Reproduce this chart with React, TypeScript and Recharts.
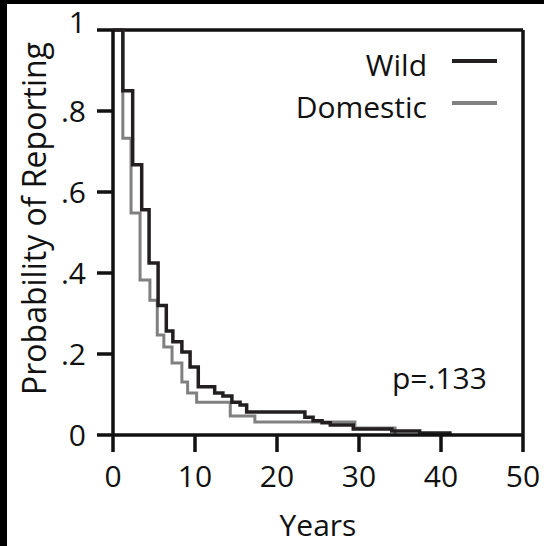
import { Legend, Line, LineChart, ReferenceLine, XAxis, YAxis } from "recharts";

// Kaplan-Meier style step curves
const wildYears = [0, 1.2, 2.4, 3.5, 4.4, 5.5, 6.5, 7.3, 8.4, 9.4, 10.4, 12.4, 13.4, 14.5, 15.5, 16.3, 23.4, 24.4, 25.5, 26.5, 29.3, 34.0, 37.4, 41.3];
const wildProb = [1, 0.85, 0.667, 0.556, 0.425, 0.32, 0.257, 0.23, 0.205, 0.168, 0.119, 0.104, 0.096, 0.081, 0.074, 0.057, 0.044, 0.035, 0.03, 0.025, 0.015, 0.01, 0.005, 0.005];

const domesticYears = [0, 1.2, 2.2, 3.3, 4.5, 5.4, 6.2, 7.2, 8.4, 9.1, 10.2, 14.3, 17.3, 29.5, 34.4];
const domesticProb = [1, 0.733, 0.548, 0.383, 0.333, 0.247, 0.217, 0.178, 0.131, 0.104, 0.081, 0.047, 0.032, 0.017, 0];

const xTicks = [0, 10, 20, 30, 40, 50];
const yTicks = [0, 0.2, 0.4, 0.6, 0.8, 1];
const yTickLabels = ["0", ".2", ".4", ".6", ".8", "1"];
const seriesNames = ["Wild", "Domestic"];
const seriesColors = ["#231f20", "#808080"];
const yTitle = "Probability of Reporting";
const pValue = "p=.133";

const wildData = wildYears.map((t, i) => ({ t, p: wildProb[i] }));
const domesticData = domesticYears.map((t, i) => ({ t, p: domesticProb[i] }));

const font = "'Open Sans', sans-serif";
const ink = "#111";
const tickStyle = { fill: ink, fontSize: 30, fontFamily: font };
const lineStyle = { stroke: ink, strokeWidth: 3.5 };

// y tick: the top label "1" sits a little higher than its tick in the original
function YTick(props: any) {
  const { x, y, payload } = props;
  const label = yTickLabels[yTicks.indexOf(payload.value)] ?? String(payload.value);
  const lift = payload.value === 1 ? -8 : 0;
  return (
    <text x={x} y={y + lift} dy="0.355em" textAnchor="end" {...tickStyle}>
      {label}
    </text>
  );
}

function YTitle(props: any) {
  const vb = props.viewBox;
  const cx = vb.x + 22;
  const cy = vb.y + vb.height / 2 - 14;
  return (
    <text
      x={cx}
      y={cy}
      dy="0.355em"
      textAnchor="middle"
      transform={`rotate(-90 ${cx} ${cy})`}
      fill={ink}
      fontSize={32}
      fontFamily={font}
    >
      {yTitle}
    </text>
  );
}

function LegendBox() {
  return (
    <div style={{ fontFamily: font, fontSize: 30, color: ink }}>
      {seriesNames.map((n, i) => (
        <div
          key={n}
          style={{ display: "flex", justifyContent: "flex-end", alignItems: "center", height: 42 }}
        >
          <span style={{ lineHeight: "42px" }}>{n}</span>
          <span
            style={{
              display: "inline-block",
              width: 45,
              height: 4,
              marginLeft: 25,
              marginTop: -8,
              background: seriesColors[i],
            }}
          />
        </div>
      ))}
    </div>
  );
}

export default function App() {
  return (
    <div
      style={{
        position: "relative",
        width: 544,
        height: 546,
        background: "#fff",
        overflow: "hidden",
      }}
    >
      <style>{`body{margin:0}`}</style>
      <div style={{ position: "absolute", left: 0, top: 0, width: 7, height: 546, background: "#000" }} />
      <div style={{ position: "absolute", left: 0, top: 0, width: 544, height: 4, background: "#000" }} />
      <LineChart
        width={544}
        height={546}
        margin={{ top: 30, right: 21, left: 13, bottom: 0 }}
        style={{ fontFamily: font }}
      >
        <XAxis
          type="number"
          dataKey="t"
          domain={[0, 50]}
          ticks={xTicks}
          height={111}
          axisLine={lineStyle}
          tickLine={lineStyle}
          tickSize={17}
          tickMargin={14}
          tick={tickStyle}
          allowDataOverflow
          label={{
            value: "Years",
            position: "insideBottom",
            offset: 10,
            style: { fill: ink, fontSize: 30, fontFamily: font },
          }}
        />
        <YAxis
          type="number"
          dataKey="p"
          domain={[0, 1]}
          ticks={yTicks}
          width={100}
          axisLine={lineStyle}
          tickLine={lineStyle}
          tickSize={16}
          tickMargin={11}
          tick={<YTick />}
          label={{ value: yTitle, position: "insideLeft", content: <YTitle /> }}
        />
        <ReferenceLine y={1} stroke={ink} strokeWidth={3.5} />
        <ReferenceLine x={50} stroke={ink} strokeWidth={3.5} />
        <Line
          data={domesticData}
          dataKey="p"
          name={seriesNames[1]}
          type="stepAfter"
          stroke={seriesColors[1]}
          strokeWidth={3}
          dot={false}
          isAnimationActive={false}
        />
        <Line
          data={wildData}
          dataKey="p"
          name={seriesNames[0]}
          type="stepAfter"
          stroke={seriesColors[0]}
          strokeWidth={3.5}
          dot={false}
          isAnimationActive={false}
        />
        <Legend
          layout="vertical"
          align="center"
          verticalAlign="middle"
          content={() => <LegendBox />}
          wrapperStyle={{ top: 44, left: 280, width: 217 }}
        />
      </LineChart>
      <div
        style={{
          position: "absolute",
          left: 392,
          top: 358,
          fontFamily: font,
          fontSize: 30,
          color: ink,
          lineHeight: "40px",
        }}
      >
        {pValue}
      </div>
    </div>
  );
}
